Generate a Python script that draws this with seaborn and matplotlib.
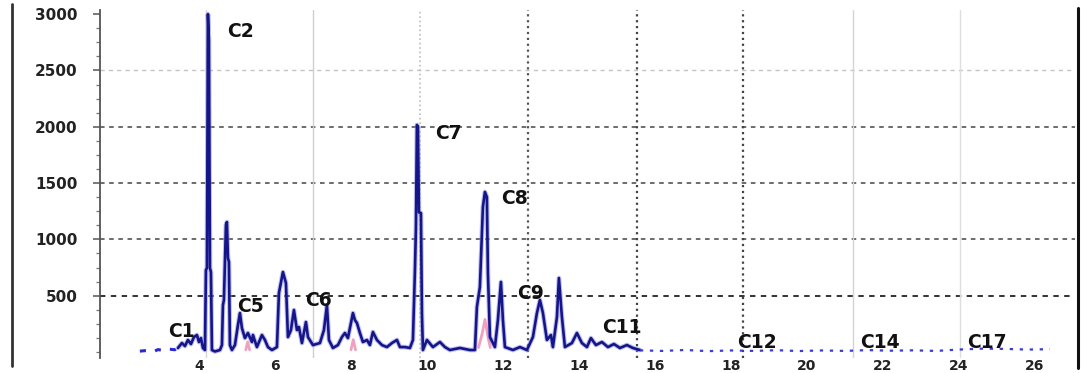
import numpy as np
import pandas as pd
import matplotlib
matplotlib.use("Agg")
import matplotlib.pyplot as plt
import seaborn as sns
from matplotlib.lines import Line2D
from matplotlib.ticker import FixedLocator, MultipleLocator

# ---------------- data ----------------
# early baseline (drawn dashed)
start_time = [2.43, 2.56, 2.70, 2.83, 2.91, 3.01, 3.09, 3.22, 3.35, 3.43]
start_int = [8, 12, 6, 10, 22, 15, 18, 25, 20, 36]

# main chromatogram trace
main_time = [3.433, 3.538, 3.617, 3.696, 3.775, 3.854, 3.933, 3.986, 4.039, 4.091,
             4.144, 4.170, 4.197, 4.223, 4.249, 4.276, 4.302, 4.328, 4.407, 4.539,
             4.592, 4.618, 4.644, 4.697, 4.723, 4.750, 4.776, 4.802, 4.855, 4.934,
             5.013, 5.066, 5.118, 5.197, 5.276, 5.382, 5.408, 5.513, 5.645, 5.724,
             5.803, 5.909, 6.040, 6.093, 6.198, 6.277, 6.330, 6.409, 6.488, 6.567,
             6.620, 6.699, 6.804, 6.857, 6.988, 7.173, 7.278, 7.357, 7.410, 7.515,
             7.647, 7.752, 7.831, 7.910, 8.042, 8.094, 8.147, 8.226, 8.305, 8.410,
             8.489, 8.568, 8.674, 8.806, 8.937, 9.069, 9.201, 9.280, 9.411, 9.543,
             9.622, 9.675, 9.701, 9.727, 9.754, 9.780, 9.833, 9.859, 9.885, 9.991,
             10.149, 10.333, 10.465, 10.596, 10.860, 11.123, 11.255, 11.307, 11.386, 11.465,
             11.518, 11.570, 11.597, 11.650, 11.781, 11.860, 11.940, 11.992, 12.045, 12.256,
             12.440, 12.624, 12.782, 12.888, 12.967, 13.046, 13.151, 13.257, 13.309, 13.415,
             13.467, 13.546, 13.625, 13.810, 13.941, 14.073, 14.205, 14.310, 14.442, 14.600,
             14.758, 14.916, 15.074, 15.258, 15.416, 15.600]
main_int = [36, 80, 53, 107, 71, 133, 151, 89, 124, 36,
            18, 728, 746, 3000, 2770, 746, 710, 18, 5, 18,
            62, 417, 462, 1128, 1154, 835, 799, 62, 18, 62,
            240, 346, 213, 124, 169, 89, 151, 44, 151, 107,
            44, 18, 44, 524, 710, 613, 133, 195, 373, 195,
            222, 80, 266, 133, 62, 80, 195, 417, 107, 36,
            62, 133, 169, 124, 346, 284, 258, 169, 89, 107,
            62, 178, 107, 62, 44, 80, 107, 44, 44, 36,
            107, 728, 1100, 2016, 2000, 1240, 1234, 346, 18, 107,
            44, 89, 44, 18, 36, 18, 18, 400, 577, 1288,
            1421, 1376, 702, 133, 44, 284, 622, 284, 44, 18,
            44, 18, 133, 346, 462, 346, 107, 151, 44, 311,
            657, 311, 44, 80, 169, 80, 44, 124, 62, 89,
            44, 71, 36, 62, 36, 18]

# late baseline (drawn dotted)
tail_time = [15.6, 16.2, 16.8, 17.4, 18.0, 18.6, 19.2, 19.8, 20.4, 21.0,
             21.6, 22.2, 22.8, 23.4, 24.0, 24.6, 25.2, 25.8, 26.4]
tail_int = [15, 10, 18, 8, 14, 10, 16, 9, 14, 10,
            17, 12, 15, 10, 22, 30, 28, 22, 25]

# secondary (pink) trace, as separate small segments
pink_time = [5.22, 5.27, 5.32, 7.99, 8.05, 8.11, 11.35, 11.45, 11.52, 11.60, 11.66]
pink_int = [20, 90, 20, 20, 110, 20, 40, 170, 290, 130, 40]
pink_seg = [0, 0, 0, 1, 1, 1, 2, 2, 2, 2, 2]

# peak labels
peak_names = ["C1", "C2", "C5", "C6", "C7", "C8", "C9", "C11", "C12", "C14", "C17"]
peak_label_x = [3.17, 4.72, 4.99, 6.78, 10.20, 11.94, 12.36, 14.60, 18.16, 21.40, 24.21]
peak_label_y = [178, 2850, 408, 462, 1936, 1359, 524, 222, 89, 89, 89]

x_ticks = [4, 6, 8, 10, 12, 14, 16, 18, 20, 22, 24, 26]
y_ticks = [500, 1000, 1500, 2000, 2500, 3000]

# ---------------- style ----------------
sns.set_theme(style="white")
plt.rcParams['font.family'] = ['DejaVu Sans']

W, H = 1081, 373
fig = plt.figure(figsize=(W / 100, H / 100), dpi=100)
ax = fig.add_axes([100 / W, 15 / H, 975 / W, 348 / H])
ax.set_facecolor("white")

# grid lines (styling)
for yv, col, lw in [(500, "#222222", 1.3), (1000, "#444444", 1.1), (1500, "#444444", 1.1),
                    (2000, "#444444", 1.1), (2500, "#c4c4c4", 1.0)]:
    ax.axhline(yv, color=col, lw=lw, ls=(0, (3, 3)), zorder=1)
vgrid = [(4.17, "#d8d8d8", "-", 1.0), (6.99, "#cfcfcf", "-", 1.0), (9.81, "#bdbdbd", ":", 1.2),
         (12.65, "#555555", ":", 1.6), (15.52, "#444444", ":", 1.6), (18.31, "#444444", ":", 1.6),
         (21.21, "#d4d4d4", "-", 1.0), (24.03, "#dedede", "-", 1.0)]
for xv, col, ls, lw in vgrid:
    ax.axvline(xv, color=col, ls=ls, lw=lw, zorder=1)

df_main = pd.DataFrame({"time": main_time, "intensity": main_int})
df_start = pd.DataFrame({"time": start_time, "intensity": start_int})
df_tail = pd.DataFrame({"time": tail_time, "intensity": tail_int})
df_pink = pd.DataFrame({"time": pink_time, "intensity": pink_int, "seg": pink_seg})

sns.lineplot(data=df_pink, x="time", y="intensity", units="seg", ax=ax, color="#f2a0bf",
             lw=2.0, estimator=None, sort=False, zorder=2)
sns.lineplot(data=df_main, x="time", y="intensity", ax=ax, color="#8c8ce0",
             lw=3.4, alpha=0.55, estimator=None, sort=False, zorder=3)
sns.lineplot(data=df_main, x="time", y="intensity", ax=ax, color="#15158a",
             lw=1.9, estimator=None, sort=False, zorder=4)
sns.lineplot(data=df_start, x="time", y="intensity", ax=ax, color="#2a2ad0",
             lw=2.2, ls=(0, (2, 3)), estimator=None, sort=False, zorder=4)
sns.lineplot(data=df_tail, x="time", y="intensity", ax=ax, color="#3c3cd8",
             lw=1.6, ls=(0, (1.5, 3)), estimator=None, sort=False, zorder=4)

for name, lx, ly in zip(peak_names, peak_label_x, peak_label_y):
    ax.text(lx, ly, name, ha="left", va="center", fontsize=13.5,
            fontweight="bold", color="#111111", zorder=6)

ax.set_xlim(1.38, 27.06)
ax.set_ylim(-53, 3037)
ax.xaxis.set_major_locator(FixedLocator(x_ticks))
ax.yaxis.set_major_locator(FixedLocator(y_ticks))
ax.yaxis.set_minor_locator(MultipleLocator(125))
ax.set_xticklabels([str(v) for v in x_ticks])
ax.set_yticklabels([str(v) for v in y_ticks])
ax.set_xlabel("")
ax.set_ylabel("")

for s in ["top", "right", "bottom"]:
    ax.spines[s].set_visible(False)
ax.spines["left"].set_color("#555555")
ax.spines["left"].set_linewidth(1.3)

ax.tick_params(axis="y", which="major", direction="out", length=5, width=1.1,
               color="#555555", pad=11, labelsize=11, left=True)
ax.tick_params(axis="y", which="minor", direction="out", length=3, width=0.9,
               color="#777777", left=True)
ax.tick_params(axis="x", which="major", length=0, pad=0.5, labelsize=10, bottom=True)
for lab in ax.get_yticklabels() + ax.get_xticklabels():
    lab.set_fontweight("bold")
    lab.set_color("#222222")

# figure frame lines
fig.add_artist(Line2D([12 / W, 12 / W], [1 - 4 / H, 1 - 366 / H],
                      transform=fig.transFigure, color="#333333", lw=2.0))
fig.add_artist(Line2D([1078 / W, 1078 / W], [1 - 8 / H, 1 - 368 / H],
                      transform=fig.transFigure, color="#111111", lw=2.2))

fig.savefig("out.png", dpi=100, facecolor="white")
